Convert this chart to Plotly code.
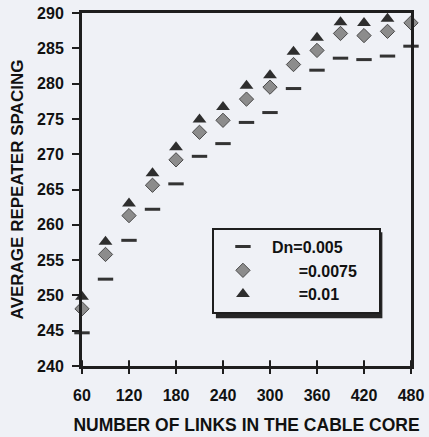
import plotly.graph_objects as go

# Number of links in the cable core
links = [60, 90, 120, 150, 180, 210, 240, 270, 300, 330, 360, 390, 420, 450, 480]

# Average repeater spacing for three index differences
spacing_dn_005 = [244.7, 252.3, 257.8, 262.2, 265.8, 269.7, 271.5, 274.5, 275.9,
                  279.3, 281.9, 283.6, 283.4, 283.9, 285.3]
spacing_dn_0075 = [248.1, 255.8, 261.3, 265.6, 269.2, 273.1, 274.8, 277.8, 279.5,
                   282.7, 284.7, 287.1, 286.8, 287.4, 288.6]
spacing_dn_01 = [249.8, 257.6, 263.0, 267.3, 271.0, 274.9, 276.7, 279.7, 281.2,
                 284.5, 286.5, 288.7, 288.6, 289.2, None]

x_ticks = [60, 120, 180, 240, 300, 360, 420, 480]
y_ticks = [240, 245, 250, 255, 260, 265, 270, 275, 280, 285, 290]

NB = "\u00a0"
series_names = ["Dn=0.005" + NB * 7,
                NB * 6 + "=0.0075" + NB * 3,
                NB * 6 + "=0.01"]

FONT = "Liberation Sans, Arial, sans-serif"
BG = "#eff1f6"
INK = "#1e1e1e"

fig = go.Figure()

fig.add_trace(go.Scatter(
    x=links, y=spacing_dn_005, mode="markers", name=series_names[0],
    marker=dict(symbol="line-ew", size=11, line=dict(width=3, color="#333333")),
    cliponaxis=False,
))
fig.add_trace(go.Scatter(
    x=links, y=spacing_dn_0075, mode="markers", name=series_names[1],
    marker=dict(symbol="diamond", size=11, color="#8c8c8c",
                line=dict(width=1, color="#4a4a4a")),
    cliponaxis=False,
))
fig.add_trace(go.Scatter(
    x=links, y=spacing_dn_01, mode="markers", name=series_names[2],
    marker=dict(symbol="triangle-up", size=12, color="#2e2e2e"),
    cliponaxis=False,
))

# Inward half of the x tick marks (ticks cross the axis line)
for v in x_ticks:
    fig.add_shape(type="line", xref="x", yref="y domain",
                  x0=v, x1=v, y0=0, y1=0.016,
                  line=dict(color=INK, width=2))

# Drop shadow behind the legend box
fig.add_shape(type="rect", xref="paper", yref="paper", layer="below",
              x0=0.407, x1=0.913, y0=0.135, y1=0.379,
              line=dict(width=0), fillcolor="#262626")

fig.update_layout(
    width=429, height=437,
    margin=dict(l=82, r=18, t=13, b=71),
    paper_bgcolor=BG, plot_bgcolor=BG,
    font=dict(family=FONT, size=16, color="#111111", weight="bold"),
    showlegend=True,
    legend=dict(
        x=0.395, y=0.392, xanchor="left", yanchor="top",
        bgcolor=BG, bordercolor=INK, borderwidth=2,
        font=dict(family=FONT, size=16, color="#111111", weight="bold"),
        itemwidth=48, tracegroupgap=0,
    ),
    xaxis=dict(
        range=[60, 480], tickvals=x_ticks, ticktext=[str(v) for v in x_ticks],
        showline=True, linecolor=INK, linewidth=3, mirror=True,
        ticks="outside", ticklen=5, tickwidth=2, tickcolor=INK,
        showgrid=False, zeroline=False, automargin=False,
        ticklabelstandoff=8,
        tickfont=dict(family=FONT, size=16, weight="bold"),
        title=dict(text="NUMBER OF LINKS IN THE CABLE CORE",
                   font=dict(family=FONT, size=17.5, weight="bold"), standoff=16),
    ),
    yaxis=dict(
        range=[240, 290], tickvals=y_ticks,
        showline=True, linecolor=INK, linewidth=3, mirror=True,
        ticks="outside", ticklen=7, tickwidth=2, tickcolor=INK,
        showgrid=False, zeroline=False, automargin=False,
        ticklabelstandoff=5,
        tickfont=dict(family=FONT, size=16, weight="bold"),
        title=dict(text="AVERAGE REPEATER SPACING",
                   font=dict(family=FONT, size=17, weight="bold"), standoff=10),
    ),
)

fig.write_html("out.html")
